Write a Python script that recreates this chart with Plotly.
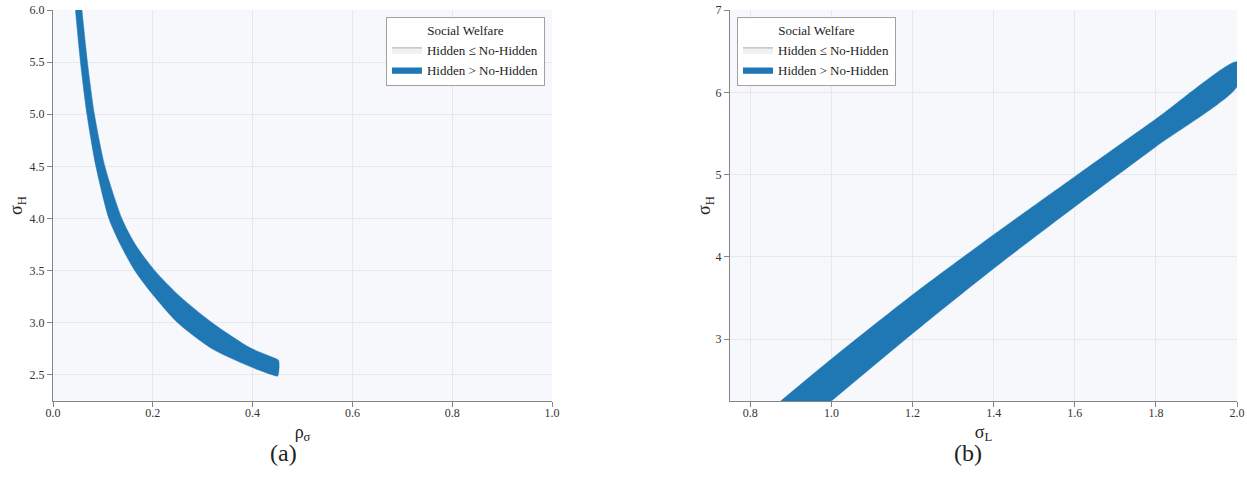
import plotly.graph_objects as go

# ---- Panel (a): region where Hidden > No-Hidden in the (rho_sigma, sigma_H) plane ----
# outer (upper-right) boundary, from top to bottom
rho_outer = [0.058, 0.069, 0.083, 0.104, 0.138, 0.165, 0.204, 0.255, 0.319, 0.395, 0.441, 0.452]
sigH_outer = [6.00, 5.50, 5.00, 4.50, 4.00, 3.75, 3.50, 3.25, 3.00, 2.76, 2.667, 2.64]
# inner (lower-left) boundary, from top to bottom
rho_inner = [0.045, 0.055, 0.068, 0.086, 0.112, 0.135, 0.164, 0.200, 0.250, 0.319, 0.395, 0.440, 0.450]
sigH_inner = [6.00, 5.50, 5.00, 4.50, 4.00, 3.75, 3.50, 3.27, 3.00, 2.75, 2.58, 2.50, 2.49]

# ---- Panel (b): region where Hidden > No-Hidden in the (sigma_L, sigma_H) plane ----
sigL_upper = [0.875, 1.0, 1.2, 1.4, 1.6, 1.8, 2.0]
sigH_upper = [2.25, 2.76, 3.54, 4.27, 4.975, 5.675, 6.37]
sigL_lower = [1.0, 1.2, 1.4, 1.6, 1.8, 2.0]
sigH_lower = [2.25, 3.07, 3.86, 4.61, 5.34, 6.07]

LEGEND_TITLE = "Social Welfare"
LABEL_LE = "Hidden ≤ No-Hidden"
LABEL_GT = "Hidden > No-Hidden"

BLUE = "#1f77b4"
BG = "#f6f8fb"
GRID = "#e6e8ec"
AXIS = "#858585"
FONT = "Liberation Serif"
TXT = "#222222"

fig = go.Figure()


def add_panel(xs, ys, xaxis, yaxis, legend):
    # entry for the complementary region (plot background)
    fig.add_trace(go.Scatter(
        x=[None], y=[None], mode="lines", fill="toself", fillcolor="#f0f1f3",
        line=dict(color="#a8a8a8", width=1), name=LABEL_LE,
        xaxis=xaxis, yaxis=yaxis, legend=legend, hoverinfo="skip"))
    # filled region where hidden regime yields higher welfare
    fig.add_trace(go.Scatter(
        x=xs, y=ys, mode="lines", fill="toself", fillcolor=BLUE,
        line=dict(color=BLUE, width=0.5, shape="spline", smoothing=0.7),
        name=LABEL_GT, xaxis=xaxis, yaxis=yaxis, legend=legend))


add_panel(rho_outer + rho_inner[::-1], sigH_outer + sigH_inner[::-1], "x", "y", "legend")
add_panel(sigL_upper + sigL_lower[::-1], sigH_upper + sigH_lower[::-1], "x2", "y2", "legend2")

axis_common = dict(
    showline=True, linecolor=AXIS, linewidth=1,
    ticks="outside", ticklen=5, tickcolor=AXIS, tickwidth=1,
    showgrid=True, gridcolor=GRID, gridwidth=1, zeroline=False,
    automargin=False,
    tickfont=dict(family=FONT, size=12, color="#333333"),
)

legend_common = dict(
    bgcolor="white", bordercolor="#a0a0a0", borderwidth=1,
    font=dict(family=FONT, size=13, color=TXT),
    title=dict(text=LEGEND_TITLE, side="top center",
               font=dict(family=FONT, size=13, color=TXT)),
    yanchor="top", y=0.982, tracegroupgap=0, itemclick=False,
)

title_font = dict(family=FONT, size=18, color=TXT)

fig.update_layout(
    width=1247, height=492,
    margin=dict(l=53, r=10, t=10, b=91),
    paper_bgcolor="white",
    plot_bgcolor=BG,
    font=dict(family=FONT, color=TXT),
    xaxis=dict(domain=[0, 0.4215], range=[0, 1], dtick=0.2, tickformat=".1f",
               anchor="y", ticklabelstandoff=-4,
               title=dict(text="ρ<sub>σ</sub>", font=title_font, standoff=5),
               **axis_common),
    yaxis=dict(domain=[0, 1], range=[2.25, 6.0], dtick=0.5, tickformat=".1f",
               anchor="x",
               title=dict(text="σ<sub>H</sub>", font=title_font, standoff=2),
               **axis_common),
    xaxis2=dict(domain=[0.5718, 1], range=[0.75, 2.0], dtick=0.2, tickformat=".1f",
                anchor="y2", ticklabelstandoff=-4,
                title=dict(text="σ<sub>L</sub>", font=title_font, standoff=5),
                **axis_common),
    yaxis2=dict(domain=[0, 1], range=[2.25, 7.0], dtick=1, tickformat="d",
                anchor="x2",
                title=dict(text="σ<sub>H</sub>", font=title_font, standoff=0),
                **axis_common),
    legend=dict(x=0.4155, xanchor="right", **legend_common),
    legend2=dict(x=0.5777, xanchor="left", **legend_common),
    annotations=[
        dict(text="(a)", xref="paper", yref="paper", x=0.1943, y=-0.132,
             xanchor="center", yanchor="middle", showarrow=False,
             font=dict(family=FONT, size=24, color=TXT)),
        dict(text="(b)", xref="paper", yref="paper", x=0.7732, y=-0.132,
             xanchor="center", yanchor="middle", showarrow=False,
             font=dict(family=FONT, size=24, color=TXT)),
    ],
)

fig.write_html("out.html")
